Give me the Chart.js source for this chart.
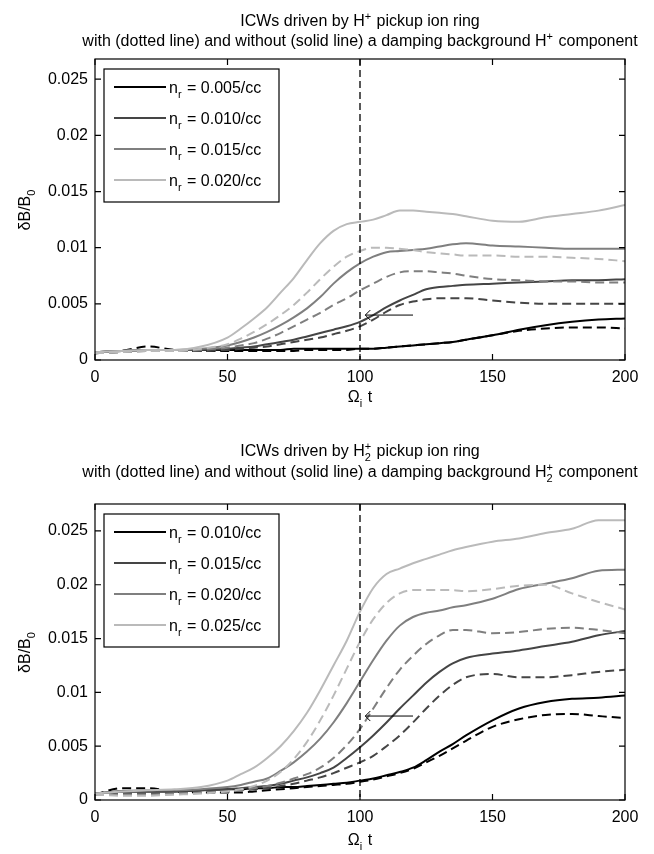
<!DOCTYPE html>
<html>
<head>
<meta charset="utf-8">
<script src="https://cdn.jsdelivr.net/npm/chart.js@4.4.1/dist/chart.umd.min.js"></script>
<style>
  body { margin: 0; background: #fff; }
  .box { position: absolute; left: 0; width: 654px; height: 427px; }
</style>
</head>
<body>
<div class="box" style="top:0"><canvas id="c1" width="654" height="427"></canvas></div>
<div class="box" style="top:427px"><canvas id="c2" width="654" height="427"></canvas></div>
<script>
// time samples (Omega_i t)
var T = [0,10,20,30,40,50,55,60,65,70,75,80,85,90,95,100,105,110,115,120,125,130,135,140,150,160,170,180,190,200];
var xTicks = [0, 50, 100, 150, 200];
var yTicks = [0, 0.005, 0.01, 0.015, 0.02, 0.025];

// top panel: H+ ring
var h1Labels = ['0.005/cc', '0.010/cc', '0.015/cc', '0.020/cc'];
var h1Solid005 = [0.0007,0.0008,0.0009,0.0009,0.0009,0.0009,0.0009,0.0009,0.0009,0.0009,0.001,0.001,0.001,0.001,0.001,0.001,0.001,0.0011,0.0012,0.0013,0.0014,0.0015,0.0016,0.0018,0.0022,0.0027,0.0031,0.0034,0.0036,0.0037];
var h1Dash005  = [0.0006,0.0008,0.0012,0.0009,0.0008,0.0008,0.0008,0.0008,0.0008,0.0008,0.0008,0.0009,0.0009,0.0009,0.0009,0.001,0.001,0.0011,0.0012,0.0013,0.0014,0.0015,0.0016,0.0018,0.0022,0.0026,0.0028,0.0029,0.0029,0.0028];
var h1Solid010 = [0.0007,0.0008,0.0009,0.0009,0.0009,0.001,0.0011,0.0012,0.0014,0.0016,0.0018,0.0021,0.0024,0.0027,0.003,0.0034,0.004,0.0047,0.0053,0.0058,0.0063,0.0065,0.0066,0.0067,0.0068,0.0069,0.007,0.0071,0.0071,0.0072];
var h1Dash010  = [0.0006,0.0007,0.0008,0.0008,0.0008,0.0009,0.001,0.0011,0.0012,0.0014,0.0016,0.0018,0.002,0.0023,0.0026,0.003,0.0036,0.0043,0.0049,0.0052,0.0054,0.0055,0.0055,0.0055,0.0053,0.0051,0.005,0.005,0.005,0.005];
var h1Solid015 = [0.0007,0.0008,0.0009,0.0009,0.001,0.0013,0.0016,0.002,0.0025,0.0031,0.0038,0.0046,0.0056,0.0068,0.0078,0.0086,0.0092,0.0096,0.0097,0.0098,0.0099,0.0101,0.0103,0.0104,0.0102,0.0101,0.01,0.0099,0.0099,0.0099];
var h1Dash015  = [0.0006,0.0007,0.0008,0.0008,0.0009,0.0011,0.0013,0.0015,0.0019,0.0024,0.003,0.0036,0.0042,0.0049,0.0055,0.0062,0.0068,0.0074,0.0078,0.0079,0.0079,0.0078,0.0077,0.0075,0.0072,0.0071,0.007,0.007,0.0069,0.0069];
var h1Solid020 = [0.0007,0.0008,0.0009,0.0009,0.0012,0.002,0.0028,0.0037,0.0047,0.006,0.0073,0.0089,0.0104,0.0115,0.0121,0.0123,0.0125,0.0129,0.0133,0.0133,0.0132,0.0131,0.013,0.0128,0.0124,0.0123,0.0127,0.013,0.0133,0.0138];
var h1Dash020  = [0.0006,0.0007,0.0008,0.0008,0.001,0.0014,0.0019,0.0025,0.0032,0.004,0.0049,0.006,0.0072,0.0083,0.0092,0.0097,0.01,0.01,0.0099,0.0098,0.0096,0.0095,0.0094,0.0093,0.0093,0.0092,0.0092,0.0091,0.009,0.0088];

// bottom panel: H2+ ring
var h2Labels = ['0.010/cc', '0.015/cc', '0.020/cc', '0.025/cc'];
var h2Solid010 = [0.0006,0.0008,0.0008,0.0008,0.0009,0.001,0.001,0.0011,0.0011,0.0012,0.0012,0.0013,0.0014,0.0015,0.0016,0.0018,0.002,0.0023,0.0026,0.003,0.0037,0.0045,0.0052,0.006,0.0074,0.0085,0.0091,0.0094,0.0095,0.0097];
var h2Dash010  = [0.0005,0.0011,0.0011,0.0008,0.0007,0.0007,0.0007,0.0008,0.0009,0.001,0.0011,0.0012,0.0013,0.0014,0.0015,0.0017,0.0019,0.0022,0.0025,0.0029,0.0035,0.0041,0.0048,0.0055,0.0068,0.0075,0.0079,0.008,0.0078,0.0076];
var h2Solid015 = [0.0006,0.0008,0.0008,0.0008,0.0009,0.001,0.0011,0.0012,0.0013,0.0015,0.0018,0.0021,0.0025,0.003,0.0039,0.0049,0.006,0.0072,0.0085,0.0097,0.0109,0.0119,0.0127,0.0132,0.0136,0.0139,0.0143,0.0147,0.0153,0.0157];
var h2Dash015  = [0.0005,0.0006,0.0006,0.0006,0.0007,0.0008,0.0009,0.001,0.0011,0.0013,0.0015,0.0018,0.0021,0.0025,0.003,0.0035,0.0041,0.005,0.006,0.0072,0.0085,0.0097,0.0107,0.0114,0.0117,0.0114,0.0114,0.0116,0.0119,0.0121];
var h2Solid020 = [0.0006,0.0008,0.0009,0.0009,0.001,0.0012,0.0014,0.0017,0.002,0.0027,0.0035,0.0045,0.0057,0.0072,0.009,0.011,0.013,0.0148,0.0162,0.017,0.0174,0.0176,0.0179,0.0181,0.0187,0.0196,0.0201,0.0206,0.0213,0.0214];
var h2Dash020  = [0.0006,0.0005,0.0005,0.0006,0.0007,0.0008,0.0009,0.0011,0.0013,0.0016,0.002,0.0024,0.003,0.0039,0.0051,0.0066,0.0085,0.0104,0.0121,0.0134,0.0145,0.0153,0.0158,0.0158,0.0155,0.0156,0.0159,0.016,0.0158,0.0155];
var h2Solid025 = [0.0006,0.0008,0.0009,0.001,0.0012,0.0018,0.0024,0.003,0.0039,0.005,0.0064,0.0081,0.0102,0.0125,0.0148,0.0175,0.0197,0.021,0.0215,0.022,0.0224,0.0228,0.0232,0.0235,0.024,0.0243,0.0248,0.0252,0.026,0.026];
var h2Dash025  = [0.0005,0.0004,0.0004,0.0005,0.0006,0.0008,0.001,0.0013,0.0018,0.0026,0.0038,0.0054,0.0074,0.0097,0.0122,0.0147,0.0168,0.0183,0.0192,0.0195,0.0195,0.0195,0.0195,0.0194,0.0196,0.0199,0.02,0.0192,0.0184,0.0177];

var greys = ['#000000', '#454545', '#7f7f7f', '#bababa'];
var FONT = '"Liberation Sans", Arial, Helvetica, sans-serif';
var BIG = 16, SMALL = 11;

function pts(arr) {
  return T.map(function (t, i) { return { x: t, y: arr[i] }; });
}

function buildSets(solids, dashes) {
  var sets = [];
  // lightest first so the dark lines end up on top
  for (var i = solids.length - 1; i >= 0; i--) {
    sets.push({ data: pts(dashes[i]), borderColor: greys[i], borderWidth: 2, borderDash: [9, 5] });
    sets.push({ data: pts(solids[i]), borderColor: greys[i], borderWidth: 2 });
  }
  return sets;
}

// text with sub/superscripts, parts: {t} or {sub, sup}
function drawRich(ctx, parts, x, y, align) {
  var w = 0;
  parts.forEach(function (p) {
    if (p.t !== undefined) { ctx.font = BIG + 'px ' + FONT; w += ctx.measureText(p.t).width; }
    else {
      ctx.font = SMALL + 'px ' + FONT;
      w += Math.max(p.sub ? ctx.measureText(p.sub).width : 0, p.sup ? ctx.measureText(p.sup).width : 0) + 1;
    }
  });
  var cx = align === 'center' ? x - w / 2 : x;
  ctx.textAlign = 'left';
  ctx.textBaseline = 'alphabetic';
  ctx.fillStyle = '#000';
  parts.forEach(function (p) {
    if (p.t !== undefined) {
      ctx.font = BIG + 'px ' + FONT;
      ctx.fillText(p.t, cx, y);
      cx += ctx.measureText(p.t).width;
    } else {
      ctx.font = SMALL + 'px ' + FONT;
      var ww = 0;
      if (p.sup) { ctx.fillText(p.sup, cx, y - 6); ww = ctx.measureText(p.sup).width; }
      if (p.sub) { ctx.fillText(p.sub, cx, y + 5); ww = Math.max(ww, ctx.measureText(p.sub).width); }
      cx += ww + 1;
    }
  });
}

function makeChart(id, top, cfg) {
  var frameTop = cfg.frameTop - top, frameBottom = cfg.frameBottom - top;
  var L = 95, R = 625;

  var decor = {
    id: 'decor',
    afterDatasetsDraw: function (chart) {
      var ctx = chart.ctx, a = chart.chartArea;
      var xs = chart.scales.x, ys = chart.scales.y;
      ctx.save();
      // vertical dashed marker at t = 100
      var x100 = xs.getPixelForValue(100);
      ctx.strokeStyle = '#000'; ctx.lineWidth = 1.3; ctx.setLineDash([7, 4]);
      ctx.beginPath(); ctx.moveTo(x100, a.top); ctx.lineTo(x100, a.bottom); ctx.stroke();
      ctx.setLineDash([]);
      // arrow
      var ay = ys.getPixelForValue(cfg.arrowY);
      var ax0 = xs.getPixelForValue(120), ax1 = xs.getPixelForValue(102);
      ctx.lineWidth = 1;
      ctx.beginPath(); ctx.moveTo(ax0, ay); ctx.lineTo(ax1, ay); ctx.stroke();
      ctx.beginPath(); ctx.moveTo(ax1 + 5, ay - 5); ctx.lineTo(ax1, ay); ctx.lineTo(ax1 + 5, ay + 5); ctx.stroke();
      // frame and inward ticks
      ctx.lineWidth = 1.2;
      ctx.strokeRect(a.left, a.top, a.right - a.left, a.bottom - a.top);
      ctx.beginPath();
      xTicks.forEach(function (v) {
        var px = xs.getPixelForValue(v);
        ctx.moveTo(px, a.bottom); ctx.lineTo(px, a.bottom - 6);
        ctx.moveTo(px, a.top); ctx.lineTo(px, a.top + 6);
      });
      yTicks.forEach(function (v) {
        var py = ys.getPixelForValue(v);
        ctx.moveTo(a.left, py); ctx.lineTo(a.left + 6, py);
        ctx.moveTo(a.right, py); ctx.lineTo(a.right - 6, py);
      });
      ctx.stroke();
      // legend
      var lx = a.left + 9, ly = a.top + 10, lw = 175, lh = 133;
      ctx.fillStyle = '#fff';
      ctx.fillRect(lx, ly, lw, lh);
      ctx.strokeRect(lx, ly, lw, lh);
      cfg.labels.forEach(function (lab, i) {
        var yy = ly + 18 + i * 31;
        ctx.strokeStyle = greys[i]; ctx.lineWidth = 2;
        ctx.beginPath(); ctx.moveTo(lx + 10, yy); ctx.lineTo(lx + 62, yy); ctx.stroke();
        drawRich(ctx, [{ t: 'n' }, { sub: 'r' }, { t: ' = ' + lab }], lx + 65, yy + 6, 'left');
      });
      // titles
      drawRich(ctx, cfg.title1, (L + R) / 2, cfg.t1 - top, 'center');
      drawRich(ctx, cfg.title2, (L + R) / 2, cfg.t2 - top, 'center');
      // x label
      drawRich(ctx, [{ t: 'Ω' }, { sub: 'i' }, { t: ' t' }], (L + R) / 2, cfg.xl - top, 'center');
      // y label
      ctx.save();
      ctx.translate(30, (a.top + a.bottom) / 2);
      ctx.rotate(-Math.PI / 2);
      drawRich(ctx, [{ t: 'δB/B' }, { sub: '0' }], 0, 0, 'center');
      ctx.restore();
      ctx.restore();
    }
  };

  return new Chart(document.getElementById(id), {
    type: 'line',
    data: { datasets: buildSets(cfg.solids, cfg.dashes) },
    options: {
      responsive: false,
      animation: false,
      layout: { padding: { top: frameTop, right: 654 - R, left: 0, bottom: 0 } },
      elements: { point: { radius: 0 }, line: { cubicInterpolationMode: 'monotone' } },
      plugins: { legend: { display: false }, tooltip: { enabled: false } },
      scales: {
        x: {
          type: 'linear', min: 0, max: 200,
          afterBuildTicks: function (s) { s.ticks = xTicks.map(function (v) { return { value: v }; }); },
          afterFit: function (s) { s.height = 427 - frameBottom; },
          grid: { display: false, drawTicks: false }, border: { display: false },
          ticks: { color: '#000', font: { size: BIG, family: FONT }, padding: 8, maxRotation: 0 }
        },
        y: {
          min: 0, max: cfg.ymax,
          afterBuildTicks: function (s) { s.ticks = yTicks.map(function (v) { return { value: v }; }); },
          afterFit: function (s) { s.width = L; },
          grid: { display: false, drawTicks: false }, border: { display: false },
          ticks: {
            color: '#000', font: { size: BIG, family: FONT }, padding: 7,
            callback: function (v) { return String(+v.toFixed(3)); }
          }
        }
      }
    },
    plugins: [decor]
  });
}

makeChart('c1', 0, {
  frameTop: 59, frameBottom: 360, ymax: 0.0268, t1: 26, t2: 46, xl: 402, arrowY: 0.004,
  labels: h1Labels,
  solids: [h1Solid005, h1Solid010, h1Solid015, h1Solid020],
  dashes: [h1Dash005, h1Dash010, h1Dash015, h1Dash020],
  title1: [{ t: 'ICWs driven by H' }, { sup: '+' }, { t: ' pickup ion ring' }],
  title2: [{ t: 'with (dotted line) and without (solid line) a damping background H' }, { sup: '+' }, { t: ' component' }]
});

makeChart('c2', 427, {
  frameTop: 504, frameBottom: 800, ymax: 0.0275, t1: 456, t2: 477, xl: 845, arrowY: 0.0078,
  labels: h2Labels,
  solids: [h2Solid010, h2Solid015, h2Solid020, h2Solid025],
  dashes: [h2Dash010, h2Dash015, h2Dash020, h2Dash025],
  title1: [{ t: 'ICWs driven by H' }, { sub: '2', sup: '+' }, { t: ' pickup ion ring' }],
  title2: [{ t: 'with (dotted line) and without (solid line) a damping background H' }, { sub: '2', sup: '+' }, { t: ' component' }]
});
</script>
</body>
</html>
